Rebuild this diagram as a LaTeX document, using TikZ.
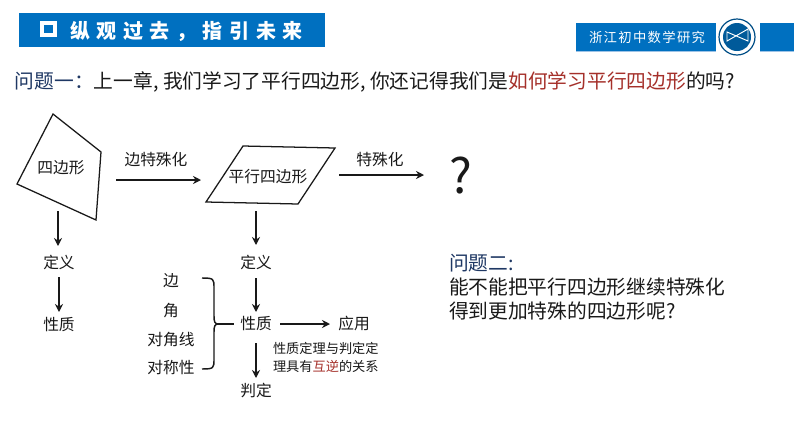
\documentclass[tikz,border=0pt]{standalone}
\usepackage{fontspec}
\setmainfont{Noto Sans CJK SC}
\usetikzlibrary{positioning,arrows.meta,calc}
\definecolor{bandblue}{HTML}{0070C0}
\definecolor{bandline}{HTML}{9DC3E6}
\definecolor{askblue}{HTML}{1F3864}
\definecolor{askred}{HTML}{A5302A}
\begin{document}
\begin{tikzpicture}[
  x=0.75pt, y=-0.75pt,
  every node/.style={inner sep=0pt, outer sep=0pt},
  band/.style={fill=bandblue, draw=none},
  label/.style={font=\fontsize{11.8}{14}\selectfont, text=black!90},
  smalllabel/.style={font=\fontsize{9.9}{13.5}\selectfont, text=black!90, align=left},
  asktext/.style={font=\fontsize{14.8}{18}\selectfont, text=black!90, anchor=west},
  shapeline/.style={draw=black!90, line width=0.95pt},
  flow/.style={-{Stealth[length=6pt,width=6pt]}, line width=1.1pt, black!90},
]
  \useasboundingbox (0,0) rectangle (794,447);
  \fill[white] (0,0) rectangle (794,447);
  % top bands
  \fill[band] (19,13) rectangle (325,47);
  \draw[white, line width=2.8pt] (42,23) rectangle (55,35);
  \node[anchor=west, text=white, font=\fontsize{15}{16}\bfseries\selectfont] (title) at (70,31) {\addfontfeature{LetterSpace=33}纵观过去，指引未来};
  \fill[band] (576,23) rectangle (716,51);
  \draw[bandline, line width=0.8pt] (576,51.5) -- (716,51.5);
  \node[text=white, font=\fontsize{10}{14}\selectfont] (group) at (647,37) {\addfontfeature{LetterSpace=10}浙江初中数学研究};
  \fill[band] (760,23) rectangle (794,51);
  \draw[bandline, line width=0.8pt] (760,51.5) -- (794,51.5);
  % logo
  \node[circle, draw=bandblue!70!black, line width=0.9pt, fill=white, minimum size=27pt] (logo) at (737,37) {};
  \node[circle, fill=bandblue!80!black, minimum size=21pt] (disc) at (logo) {};
  \draw[white, line width=0.7pt] (727,32) -- (748,41) -- (748,29) -- (727,41) -- cycle;
  % questions
  \node[asktext] (ask1) at (15,81.5) {\textcolor{askblue}{问题一：}上一章, 我们学习了平行四边形, 你还记得我们是\textcolor{askred}{如何学习平行四边形}的吗?};
  \node[asktext, text=askblue] (ask2) at (449,263) {问题二:};
  \node[asktext] (ask3) at (449,287) {能不能把平行四边形继续特殊化};
  \node[asktext] (ask4) at (449,311) {得到更加特殊的四边形呢?};
  % figures
  \draw[shapeline] (53,114) -- (101,152) -- (96,220) -- (17,184) -- cycle;
  \draw[shapeline] (243,146) -- (335,148) -- (298,204) -- (206,202) -- cycle;
  \node[label] (quad) at (61,168) {四边形};
  \node[label] (para) at (268,177) {平行四边形};
  \node[label] (edge) at (156,160) {边特殊化};
  \node[label] (spec) at (380,160) {特殊化};
  \node[font=\fontsize{36}{38}\selectfont, text=black!90] (what) at (461,176) {?};
  \coordinate (e1) at (116,180);
  \coordinate (e2) at (201,180);
  \coordinate (s1) at (339,175);
  \coordinate (s2) at (424,175);
  \draw[flow, line width=1.3pt] (e1) -- (e2);
  \draw[flow, line width=1pt] (s1) -- (s2);
  % left column
  \node[label] (def1) at (59,262) {定义};
  \node[label] (prop1) at (59,325) {性质};
  \coordinate (quadout) at (58,211);
  \coordinate (def1in) at (58,246);
  \coordinate (def1out) at (59,277);
  \coordinate (prop1in) at (59,312);
  \draw[flow] (quadout) -- (def1in);
  \draw[flow] (def1out) -- (prop1in);
  % right column
  \node[label] (def2) at (256,262) {定义};
  \node[label] (prop2) at (256,324) {性质};
  \node[label] (judge) at (256,391) {判定};
  \node[label] (use) at (354,324) {应用};
  \coordinate (paraout) at (256,211);
  \coordinate (def2in) at (256,245);
  \coordinate (def2out) at (256,278);
  \coordinate (prop2in) at (256,312);
  \coordinate (prop2out) at (256,343);
  \coordinate (judgein) at (256,378);
  \coordinate (useout) at (280,324);
  \coordinate (usein) at (330,324);
  \draw[flow] (paraout) -- (def2in);
  \draw[flow] (def2out) -- (prop2in);
  \draw[flow] (prop2out) -- (judgein);
  \draw[flow] (useout) -- (usein);
  % list with brace
  \node[label] (side) at (171,281) {边};
  \node[label] (angle) at (171,311) {角};
  \node[label] (diag) at (171,340) {对角线};
  \node[label] (symm) at (171,368) {对称性};
  \draw[black!90, line width=1.1pt] (202,278) .. controls (214,278) and (214,279) .. (214,288) -- (214,316) .. controls (214,322) and (215,324) .. (218,324) .. controls (215,324) and (214,326) .. (214,332) -- (214,359) .. controls (214,368) and (214,369) .. (202,369);
  \draw[black!90, line width=1.1pt] (218,324) -- (234,324);
  \node[smalllabel, anchor=west] (note) at (273,357) {性质定理与判定定\\理具有\textcolor{askred}{互逆}的关系};
\end{tikzpicture}
\end{document}
